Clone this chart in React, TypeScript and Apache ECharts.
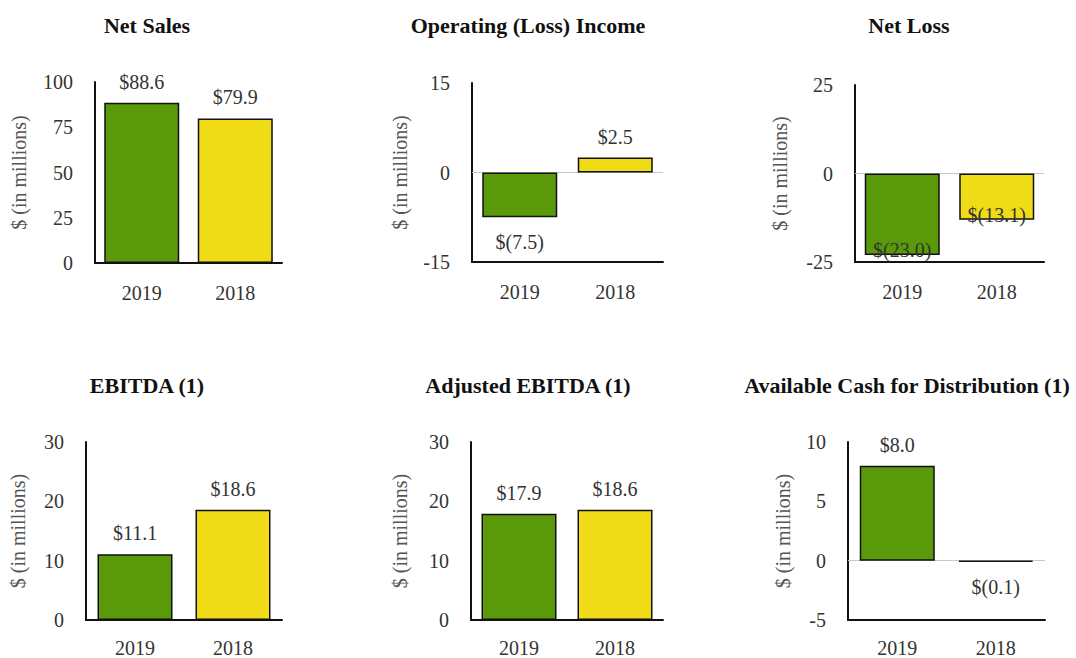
import React, { useEffect, useRef } from "react";
import * as echarts from "echarts";

// Fiscal years shown on every panel
const years = ["2019", "2018"];

// Values in $ millions
const netSales = [88.6, 79.9];
const operatingIncome = [-7.5, 2.5];
const netLoss = [-23.0, -13.1];
const ebitda = [11.1, 18.6];
const adjustedEbitda = [17.9, 18.6];
const availableCash = [8.0, -0.1];

// Panel titles
const titles = [
  "Net Sales",
  "Operating (Loss) Income",
  "Net Loss",
  "EBITDA (1)",
  "Adjusted EBITDA (1)",
  "Available Cash for Distribution (1)",
];

// Y axis ranges: [min, max, interval]
const yRanges: [number, number, number][] = [
  [0, 100, 25],
  [-15, 15, 15],
  [-25, 25, 25],
  [0, 30, 10],
  [0, 30, 10],
  [-5, 10, 5],
];

const yAxisName = "$ (in millions)";
const barColors = ["#5a990a", "#efdc17"];

const FONT = "'Liberation Serif', 'DejaVu Serif', serif";

const fmt = (v: number) =>
  v >= 0 ? `$${v.toFixed(1)}` : `$(${Math.abs(v).toFixed(1)})`;

export default function App() {
  const ref = useRef<HTMLDivElement>(null);

  useEffect(() => {
    if (!ref.current) return;
    const chart = echarts.init(ref.current, undefined, { renderer: "svg" });

    const grids = [
      { left: 95, top: 82, width: 187, height: 181 },
      { left: 472, top: 83, width: 191, height: 179 },
      { left: 855, top: 85, width: 189, height: 177 },
      { left: 86, top: 442, width: 196, height: 180 },
      { left: 471, top: 442, width: 192, height: 180 },
      { left: 848, top: 442, width: 197, height: 180 },
    ];
    const titleCenters = [142, 523, 904, 142, 523, 902];
    const titleTops = [9, 9, 9, 369, 369, 369];
    const nameGaps = [66, 62, 65, 58, 61, 55];
    const xLabelMargins = [20, 20, 20, 18, 18, 18];

    const panels = [
      { data: netSales, mode: "outside" },
      { data: operatingIncome, mode: "outside" },
      { data: netLoss, mode: "insideBottom" },
      { data: ebitda, mode: "outside" },
      { data: adjustedEbitda, mode: "outside" },
      { data: availableCash, mode: "outside" },
    ];

    const option: any = {
      animation: false,
      backgroundColor: "#ffffff",
      textStyle: { fontFamily: FONT },
      title: titles.map((t, i) => ({
        text: t,
        left: titleCenters[i],
        top: titleTops[i],
        textAlign: "center",
        textStyle: {
          fontFamily: FONT,
          fontWeight: "bold",
          fontSize: 22,
          color: "#111",
        },
      })),
      grid: grids,
      xAxis: grids.map((_, i) => ({
        type: "category",
        gridIndex: i,
        data: years,
        axisLine: { onZero: false, lineStyle: { color: "#111", width: 2 } },
        axisTick: { show: false },
        axisLabel: {
          fontFamily: FONT,
          fontSize: 20,
          color: "#333",
          margin: xLabelMargins[i],
        },
      })),
      yAxis: grids.map((_, i) => ({
        type: "value",
        gridIndex: i,
        min: yRanges[i][0],
        max: yRanges[i][1],
        interval: yRanges[i][2],
        name: yAxisName,
        nameLocation: "middle",
        nameGap: nameGaps[i],
        nameTextStyle: { fontFamily: FONT, fontSize: 20, color: "#555" },
        axisLine: { show: true, lineStyle: { color: "#111", width: 2 } },
        axisTick: { show: false },
        splitLine: { show: false },
        axisLabel: {
          fontFamily: FONT,
          fontSize: 20,
          color: "#333",
          margin: 22,
        },
      })),
      series: panels.map((p, i) => ({
        type: "bar",
        xAxisIndex: i,
        yAxisIndex: i,
        barWidth: 75,
        data: p.data.map((v, j) => ({
          value: v,
          itemStyle: {
            color: barColors[j],
            borderColor: "#111",
            borderWidth: 1.5,
          },
          label: {
            show: true,
            formatter: fmt(v),
            fontFamily: FONT,
            fontSize: 20,
            color: "#333",
            position:
              p.mode === "insideBottom"
                ? "insideBottom"
                : v >= 0
                ? "top"
                : "bottom",
            distance: p.mode === "insideBottom" ? -5 : v >= 0 ? 11 : 15,
          },
        })),
        markLine:
          yRanges[i][0] < 0
            ? {
                silent: true,
                symbol: "none",
                label: { show: false },
                lineStyle: { color: "#c8c8c8", width: 1, type: "solid" },
                data: [{ yAxis: 0 }],
                z: 1,
              }
            : undefined,
      })),
    };

    chart.setOption(option);
    return () => chart.dispose();
  }, []);

  return (
    <div
      ref={ref}
      style={{
        position: "absolute",
        left: 0,
        top: 0,
        width: 1076,
        height: 658,
        background: "#fff",
      }}
    />
  );
}
